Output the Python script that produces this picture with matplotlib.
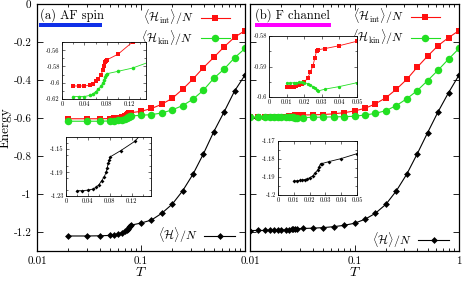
import matplotlib
matplotlib.use('Agg')
import matplotlib.pyplot as plt
from matplotlib.ticker import MultipleLocator, LogLocator, NullFormatter, FixedLocator
from matplotlib.lines import Line2D
from matplotlib.patches import Rectangle

plt.rcParams['font.family'] = 'serif'
plt.rcParams['font.serif'] = ['cmr10', 'DejaVu Serif']
plt.rcParams['mathtext.fontset'] = 'cm'
plt.rcParams['axes.unicode_minus'] = False
plt.rcParams['axes.formatter.use_mathtext'] = True

# ---------------- data ----------------
T_a = [0.02, 0.03, 0.04, 0.05, 0.055, 0.06, 0.065, 0.07, 0.073, 0.075, 0.077, 0.079, 0.08,
       0.1, 0.126, 0.158, 0.2, 0.251, 0.316, 0.398, 0.501, 0.631, 0.794, 1.0]
int_a = [-0.604, -0.604, -0.604, -0.603, -0.601, -0.598, -0.595, -0.590, -0.584, -0.579, -0.575, -0.573, -0.572,
         -0.565, -0.550, -0.528, -0.496, -0.449, -0.395, -0.335, -0.281, -0.225, -0.175, -0.140]
kin_a = [-0.617, -0.617, -0.617, -0.6155, -0.614, -0.611, -0.608, -0.604, -0.600, -0.597, -0.593, -0.590, -0.589,
         -0.586, -0.582, -0.574, -0.557, -0.535, -0.501, -0.454, -0.391, -0.342, -0.283, -0.234]
tot_a = [-1.221, -1.221, -1.220, -1.218, -1.215, -1.211, -1.204, -1.197, -1.190, -1.183, -1.174, -1.169, -1.164,
         -1.153, -1.137, -1.102, -1.053, -0.984, -0.896, -0.789, -0.672, -0.567, -0.458, -0.374]

T_b = [0.01, 0.012, 0.014, 0.0155, 0.017, 0.0185, 0.02, 0.022, 0.0235, 0.025, 0.026, 0.027, 0.028, 0.032,
       0.0398, 0.0501, 0.0631, 0.0794, 0.1, 0.126, 0.158, 0.2, 0.251, 0.316, 0.398, 0.501, 0.631, 0.794, 1.0]
int_b = [-0.5968, -0.5967, -0.5966, -0.5963, -0.5962, -0.5959, -0.5951, -0.5938, -0.5918, -0.5897, -0.5873,
         -0.5850, -0.5845, -0.5841, -0.5832, -0.5817, -0.578, -0.572, -0.563, -0.549, -0.526, -0.493, -0.449,
         -0.397, -0.333, -0.274, -0.219, -0.177, -0.140]
kin_b = [-0.5954, -0.5954, -0.5953, -0.5953, -0.5952, -0.5951, -0.5953, -0.5956, -0.5960, -0.5966, -0.5970,
         -0.5976, -0.5980, -0.5974, -0.5966, -0.5953, -0.594, -0.593, -0.591, -0.584, -0.576, -0.561, -0.535,
         -0.499, -0.456, -0.403, -0.348, -0.290, -0.234]
tot_b = [-1.1922, -1.1921, -1.1919, -1.1916, -1.1914, -1.1910, -1.1904, -1.1894, -1.1878, -1.1863, -1.1843,
         -1.1826, -1.1825, -1.1815, -1.1798, -1.1770, -1.172, -1.165, -1.154, -1.133, -1.102, -1.054, -0.984,
         -0.896, -0.789, -0.677, -0.567, -0.467, -0.374]

panel_titles = ['(a) AF spin', '(b) F channel']
bar_colors = ['#1030e8', '#ff00ff']
main_yticks = [-1.2, -1.0, -0.8, -0.6, -0.4, -0.2, 0.0]
main_yticklabels = ['-1.2', '-1', '-0.8', '-0.6', '-0.4', '-0.2', '0']
lab_int = r'$\langle\mathcal{H}_{\mathrm{int}}\rangle/N$'
lab_kin = r'$\langle\mathcal{H}_{\mathrm{kin}}\rangle/N$'
lab_tot = r'$\langle\mathcal{H}\rangle/N$'

RED = '#ff1010'
GREEN = '#22e022'
BLACK = '#000000'

W, H = 463, 281
fig = plt.figure(figsize=(W / 100, H / 100), dpi=100)


def frac(x0, y0, x1, y1):
    return [x0 / W, 1 - y1 / H, (x1 - x0) / W, (y1 - y0) / H]


def style_main(ax):
    ax.set_xscale('log')
    ax.set_xlim(0.01, 1.0)
    ax.set_ylim(-1.3, 0.0)
    ax.xaxis.set_major_locator(FixedLocator([0.01, 0.1, 1.0]))
    ax.xaxis.set_minor_locator(LogLocator(base=10, subs=range(2, 10)))
    ax.xaxis.set_minor_formatter(NullFormatter())
    ax.set_yticks(main_yticks)
    ax.tick_params(which='both', direction='in', top=True, right=True, labelsize=8, width=0.6)
    ax.tick_params(which='major', length=4, pad=4)
    ax.tick_params(which='minor', length=2)
    for s in ax.spines.values():
        s.set_linewidth(0.9)


def plot_main(ax, T, ei, ek, et):
    ax.plot(T, ei, '-', color=RED, lw=0.8, marker='s', ms=5, mec=RED, mew=0, label=lab_int)
    ax.plot(T, ek, '-', color=GREEN, lw=0.8, marker='o', ms=5.4, mec=GREEN, mew=0, label=lab_kin)
    ax.plot(T, et, '-', color=BLACK, lw=0.8, marker='D', ms=3.5, mew=0, label=lab_tot)


def legends(ax, x_up, y_up, x_lo, y_lo):
    h_int = Line2D([], [], color=RED, lw=0.8, marker='s', ms=5, mew=0)
    h_kin = Line2D([], [], color=GREEN, lw=0.8, marker='o', ms=5.4, mew=0)
    h_tot = Line2D([], [], color=BLACK, lw=0.8, marker='D', ms=3.5, mew=0)
    l1 = ax.legend([h_int, h_kin], [lab_int, lab_kin], loc='center right', bbox_to_anchor=(x_up, y_up),
                   frameon=False, markerfirst=False, handlelength=2.5, handletextpad=0.6,
                   labelspacing=0.12, fontsize=8.5, borderpad=0, borderaxespad=0)
    ax.add_artist(l1)
    ax.legend([h_tot], [lab_tot], loc='center right', bbox_to_anchor=(x_lo, y_lo),
              frameon=False, markerfirst=False, handlelength=2.6, handletextpad=0.6,
              fontsize=8.5, borderpad=0, borderaxespad=0)


def inset(rect, T, series, xlim, xt, xtl, xminor, ylim, yt, ytl, yminor):
    ax = fig.add_axes(rect)
    for E, c, m, ms in series:
        ax.plot(T, E, '-', color=c, lw=0.6, marker=m, ms=ms, mew=0)
    ax.set_xlim(*xlim)
    ax.set_ylim(*ylim)
    ax.set_xticks(xt)
    ax.set_xticklabels(xtl)
    ax.set_yticks(yt)
    ax.set_yticklabels(ytl)
    ax.xaxis.set_minor_locator(MultipleLocator(xminor))
    ax.yaxis.set_minor_locator(MultipleLocator(yminor))
    ax.tick_params(which='both', direction='in', top=True, right=True, labelsize=4.6, width=0.4, pad=1.5)
    ax.tick_params(which='major', length=2.2)
    ax.tick_params(which='minor', length=1.2)
    for s in ax.spines.values():
        s.set_linewidth(0.6)
    return ax


# ---------------- panel (a) ----------------
axA = fig.add_axes(frac(37, 4, 245, 251))
style_main(axA)
plot_main(axA, T_a, int_a, kin_a, tot_a)
axA.set_xticklabels(['0.01', '0.1', ''])
axA.set_yticklabels(main_yticklabels)
axA.set_ylabel('Energy', fontsize=9.5, labelpad=1)
axA.set_xlabel(r'$T$', fontsize=10, labelpad=0)
legends(axA, 0.928, 0.905, 0.952, 0.065)
axA.text(0.013, 0.955, panel_titles[0], transform=axA.transAxes, fontsize=9, va='center', ha='left')
axA.add_patch(Rectangle((0.008, 0.905), 0.305, 0.017, transform=axA.transAxes,
                        color=bar_colors[0], lw=0))

# ---------------- panel (b) ----------------
axB = fig.add_axes(frac(250, 4, 459, 251))
style_main(axB)
plot_main(axB, T_b, int_b, kin_b, tot_b)
axB.set_xticklabels(['0.01', '0.1', '1'])
axB.set_yticklabels([])
axB.set_xlabel(r'$T$', fontsize=10, labelpad=0)
legends(axB, 0.910, 0.907, 0.953, 0.045)
axB.text(0.024, 0.955, panel_titles[1], transform=axB.transAxes, fontsize=9, va='center', ha='left')
axB.add_patch(Rectangle((0.024, 0.905), 0.363, 0.017, transform=axB.transAxes,
                        color=bar_colors[1], lw=0))

# ---------------- insets ----------------
inset(frac(62, 42, 146, 99), T_a,
      [(int_a, RED, 's', 2.4), (kin_a, GREEN, 'o', 2.6)],
      (0, 0.15), [0, 0.04, 0.08, 0.12], ['0', '0.04', '0.08', '0.12'], 0.02,
      (-0.62, -0.55), [-0.62, -0.60, -0.58, -0.56], ['-0.62', '-0.6', '-0.58', '-0.56'], 0.01)

inset(frac(66, 137, 151, 196), T_a,
      [(tot_a, BLACK, 'D', 2.0)],
      (0, 0.155), [0, 0.04, 0.08, 0.12], ['0', '0.04', '0.08', '0.12'], 0.02,
      (-1.23, -1.13), [-1.23, -1.19, -1.15], ['-1.23', '-1.19', '-1.15'], 0.02)

inset(frac(269, 36, 357, 97), T_b,
      [(int_b, RED, 's', 2.2), (kin_b, GREEN, 'o', 2.4)],
      (0, 0.05), [0, 0.01, 0.02, 0.03, 0.04, 0.05], ['0', '0.01', '0.02', '0.03', '0.04', '0.05'], 0.01,
      (-0.6, -0.58), [-0.6, -0.59, -0.58], ['-0.6', '-0.59', '-0.58'], 0.005)

inset(frac(278, 141, 357, 195), T_b,
      [(tot_b, BLACK, 'D', 2.0)],
      (0, 0.05), [0, 0.01, 0.02, 0.03, 0.04, 0.05], ['0', '0.01', '0.02', '0.03', '0.04', '0.05'], 0.01,
      (-1.2, -1.17), [-1.2, -1.19, -1.18, -1.17], ['-1.2', '-1.19', '-1.18', '-1.17'], 0.005)

fig.savefig('out.png', dpi=100)
